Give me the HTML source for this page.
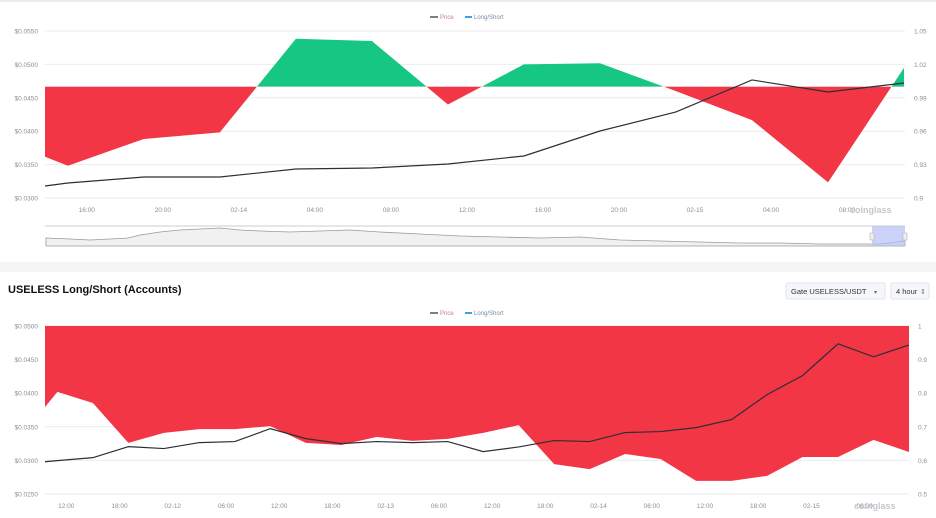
<!DOCTYPE html>
<html><head><meta charset="utf-8"><style>
body{margin:0;width:936px;height:518px;overflow:hidden;background:#fff;font-family:"Liberation Sans",sans-serif;}
svg{display:block}
text{font-family:"Liberation Sans",sans-serif;}
</style></head><body>
<svg id="svg" width="936" height="518" xmlns="http://www.w3.org/2000/svg">
<rect x="0" y="0" width="936" height="2" fill="#ececec"/>
<rect x="0" y="262" width="936" height="10" fill="#f4f5f7"/>
<text x="8" y="293" font-size="11" font-weight="bold" fill="#111">USELESS Long/Short (Accounts)</text>
<g>
<rect x="786" y="283" width="99" height="16" rx="2" fill="#f5f7fa" stroke="#dfe3e8"/>
<text x="791" y="294" font-size="7.5" fill="#333">Gate USELESS/USDT</text>
<text x="874" y="294" font-size="6" fill="#666">▾</text></g>
<g>
<rect x="891" y="283" width="38" height="16" rx="2" fill="#f5f7fa" stroke="#dfe3e8"/>
<text x="896" y="294" font-size="7.5" fill="#333">4 hour</text>
<text x="920" y="294" font-size="7" fill="#777">⇕</text></g>
<g id="g1"></g><g id="g2"></g>
</svg>
<script>
// ---- top chart data (hours relative to 02-14 00:00) ----
const topHours=[-10.2,-9,-5,-1,3,7,11,15,19,23,27,31,35];
const topRatio=[0.937,0.929,0.953,0.959,1.043,1.041,0.984,1.020,1.021,0.996,0.970,0.914,1.017];
const topPrice=[0.0318,0.03225,0.03314,0.03314,0.03434,0.03449,0.03509,0.03629,0.04003,0.04288,0.04767,0.04587,0.04722];
const topLeftTicks=["$0.0550","$0.0500","$0.0450","$0.0400","$0.0350","$0.0300"];
const topLeftVals=[0.055,0.05,0.045,0.04,0.035,0.03];
const topRightTicks=["1.05","1.02","0.99","0.96","0.93","0.9"];
const topXLabels=["16:00","20:00","02-14","04:00","08:00","12:00","16:00","20:00","02-15","04:00","08:00"];
const topXHours=[-8,-4,0,4,8,12,16,20,24,28,32];
// ---- bottom chart data (hours relative to 02-12 00:00) ----
const botHours=[-14.4,-13,-9,-5,-1,3,7,11,15,19,23,27,31,35,39,43,47,51,55,59,63,67,71,75,79,83];
const botRatio=[0.759,0.804,0.771,0.652,0.682,0.693,0.693,0.702,0.652,0.646,0.670,0.658,0.664,0.682,0.705,0.589,0.574,0.619,0.604,0.539,0.539,0.554,0.610,0.610,0.661,0.625];
const botPrice=[0.0298,0.02997,0.03041,0.03205,0.03176,0.03265,0.0328,0.03473,0.03324,0.03250,0.03280,0.03265,0.0328,0.03131,0.0320,0.03295,0.0328,0.03414,0.03429,0.03488,0.03607,0.03979,0.04262,0.04735,0.04542,0.04717];
const botLeftTicks=["$0.0500","$0.0450","$0.0400","$0.0350","$0.0300","$0.0250"];
const botLeftVals=[0.05,0.045,0.04,0.035,0.03,0.025];
const botRightTicks=["1","0.9","0.8","0.7","0.6","0.5"];
const botXLabels=["12:00","18:00","02-12","06:00","12:00","18:00","02-13","06:00","12:00","18:00","02-14","06:00","12:00","18:00","02-15","06:00"];
const botXHours=[-12,-6,0,6,12,18,24,30,36,42,48,54,60,66,72,78];

const NS="http://www.w3.org/2000/svg";
function mk(parent,tag,attrs){const e=document.createElementNS(NS,tag);for(const k in attrs)e.setAttribute(k,attrs[k]);parent.appendChild(e);return e;}

function drawChart(g,cfg){
  const {x0,x1,yT,yB,hMin,hMax,pMax,pMin,rMax,rMin,base,hours,ratio,price,lt,lv,rt,xl,xh,legY,name}=cfg;
  const X=h=>x0+(h-hMin)/(hMax-hMin)*(x1-x0);
  const YP=p=>yT+(pMax-p)/(pMax-pMin)*(yB-yT);
  const YR=r=>yT+(rMax-r)/(rMax-rMin)*(yB-yT);
  // grid + ticks
  lv.forEach((v,i)=>{
    const y=YP(v);
    const l=mk(g,'line',{x1:x0,x2:x1,y1:y,y2:y,stroke:'#ebebeb','stroke-width':1});
    
    
    const t=mk(g,'text',{x:x0-7,y:y+2.5,'font-size':6.5,fill:'#8a8f99','text-anchor':'end'});t.textContent=lt[i];
    
    
    const t2=mk(g,'text',{x:x1+9,y:y+2.5,'font-size':6.5,fill:'#8a8f99'});t2.textContent=rt[i];
    
    
  });
  xl.forEach((s,i)=>{
    const t=mk(g,'text',{x:X(xh[i]),y:yB+14,'font-size':6.5,fill:'#8a8f99','text-anchor':'middle'});t.textContent=s;
    
    
  });
  // area
  const by=YR(base);
  let d='M'+X(hours[0])+','+by;
  hours.forEach((h,i)=>{d+=' L'+X(h)+','+YR(ratio[i]);});
  d+=' L'+X(hours[hours.length-1])+','+by+' Z';
  const cidA='ca'+name,cidB='cb'+name;
  const defs=mk(g,'defs',{});
  const c1=mk(defs,'clipPath',{id:cidA});mk(c1,'rect',{x:0,y:0,width:936,height:by});
  const c2=mk(defs,'clipPath',{id:cidB});mk(c2,'rect',{x:0,y:by,width:936,height:600});
  const a1=mk(g,'path',{d:d,fill:'#16c784','clip-path':'url(#'+cidA+')'});
  
  
  const a2=mk(g,'path',{d:d,fill:'#f23645','clip-path':'url(#'+cidB+')'});
  
  
  // price line
  const pts=hours.map((h,i)=>X(h)+','+YP(price[i])).join(' ');
  const pl=mk(g,'polyline',{points:pts,fill:'none',stroke:'#2b2f36','stroke-width':1.2});
  
  
  // legend
  const lg=mk(g,'g',{});
  
  
  mk(lg,'line',{x1:430,x2:438,y1:legY-2,y2:legY-2,stroke:'#555','stroke-width':1.5});
  const lt1=mk(lg,'text',{x:440,y:legY,'font-size':6,fill:'#c0847a'});lt1.textContent='Price';
  mk(lg,'line',{x1:465,x2:472,y1:legY-2,y2:legY-2,stroke:'#3aa0f0','stroke-width':2});
  const lt2=mk(lg,'text',{x:474,y:legY,'font-size':6,fill:'#7a8aa8'});lt2.textContent='Long/Short';
  // watermark
  const wm=mk(g,'text',{x:x1-55,y:yB+15,'font-size':9,fill:'#c4c7cc','font-weight':'bold'});wm.textContent='coinglass';
  
  
}
drawChart(document.getElementById('g1'),{x0:45,x1:905,yT:31,yB:198,hMin:-10.2,hMax:35.05,pMax:0.055,pMin:0.03,rMax:1.05,rMin:0.9,base:1,
  hours:topHours,ratio:topRatio,price:topPrice,lt:topLeftTicks,lv:topLeftVals,rt:topRightTicks,xl:topXLabels,xh:topXHours,legY:19,name:'t'});
drawChart(document.getElementById('g2'),{x0:45,x1:909,yT:326,yB:494,hMin:-14.4,hMax:83,pMax:0.05,pMin:0.025,rMax:1,rMin:0.5,base:1,
  hours:botHours,ratio:botRatio,price:botPrice,lt:botLeftTicks,lv:botLeftVals,rt:botRightTicks,xl:botXLabels,xh:botXHours,legY:315,name:'b'});
// navigator
const svg=document.getElementById('svg');
const nav=mk(svg,'g',{});


mk(nav,'line',{x1:45,x2:905,y1:226,y2:226,stroke:'#ccc','stroke-width':1});
mk(nav,'path',{d:'M46,238 L70,239 L90,240 L110,239 L128,238 L140,235 L160,232 L180,230 L200,229 L220,228 L240,230 L260,231 L290,232 L320,231 L350,230 L380,232 L420,234 L460,236 L500,237 L540,238 L580,237 L620,240 L660,241 L700,242 L740,243 L780,243 L820,244 L860,244 L880,244 L905,241 L905,246 L46,246 Z',fill:'#f1f1f1',stroke:'#9a9a9a','stroke-width':0.8});
mk(nav,'rect',{x:872,y:226,width:33,height:20,fill:'#b8c0f5','fill-opacity':0.7});
mk(nav,'rect',{x:870,y:233,width:4,height:7,fill:'#eee',stroke:'#aaa','stroke-width':0.5});
mk(nav,'rect',{x:903,y:233,width:4,height:7,fill:'#eee',stroke:'#aaa','stroke-width':0.5});
</script>
</body></html>
